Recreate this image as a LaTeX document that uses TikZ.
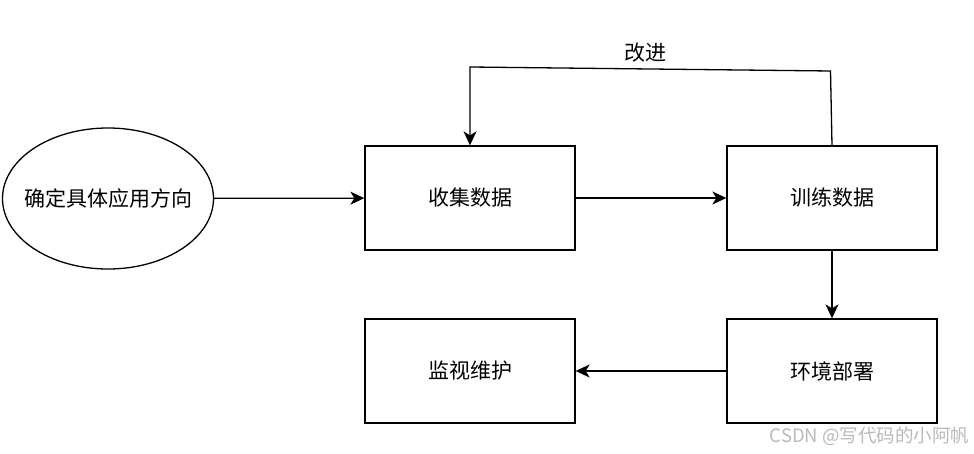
\documentclass[tikz,border=0pt]{standalone}
\usepackage{fontspec}
\newfontfamily\cjk{Noto Sans CJK SC}
\usepackage{tikz}
\usetikzlibrary{arrows.meta}
\usetikzlibrary{shapes}
\usetikzlibrary{positioning}

\begin{document}
\begin{tikzpicture}[x=1pt, y=-1pt, line width=1.3pt,
    stepbox/.style={draw, rectangle, minimum width=210pt, minimum height=104pt, inner sep=0pt,
                    font=\cjk\fontsize{21}{25}\selectfont},
    goaloval/.style={draw, ellipse, minimum width=211pt, minimum height=141pt, inner sep=0pt,
                     font=\cjk\fontsize{21}{25}\selectfont},
    flow/.style={-{Stealth[length=14pt, width=13pt, inset=4pt]}}]
  \useasboundingbox (0,0) rectangle (974,454);

  \draw (108,198.5) node[goaloval]   (goal)    {\makebox[0pt]{确定具体应用方向}};
  \draw (470,198)   node[stepbox]    (collect) {收集数据};
  \draw (832,198)   node[stepbox]    (train)   {训练数据};
  \draw (832,371)   node[stepbox]    (deploy)  {环境部署};
  \draw (470,371)   node[stepbox]    (monitor) {监视维护};

  \coordinate (fbR) at (830.5,71);
  \coordinate (fbL) at (470,67);

  \draw[flow] (goal) -- (collect);
  \draw[flow] (collect) -- (train);
  \draw[flow] (train) -- (deploy);
  \draw[flow] (deploy) -- (monitor);
  \draw[flow] (train.north) -- (fbR) -- (fbL) -- (collect.north);

  \draw (645,53) node[font=\cjk\fontsize{21}{25}\selectfont] (improve) {改进};

  % watermark
  \draw (970,436) node[anchor=east, inner sep=0pt, text=gray!55,
                       font=\cjk\fontsize{18.5}{20}\selectfont] (mark) {CSDN @写代码的小阿帆};
\end{tikzpicture}
\end{document}
